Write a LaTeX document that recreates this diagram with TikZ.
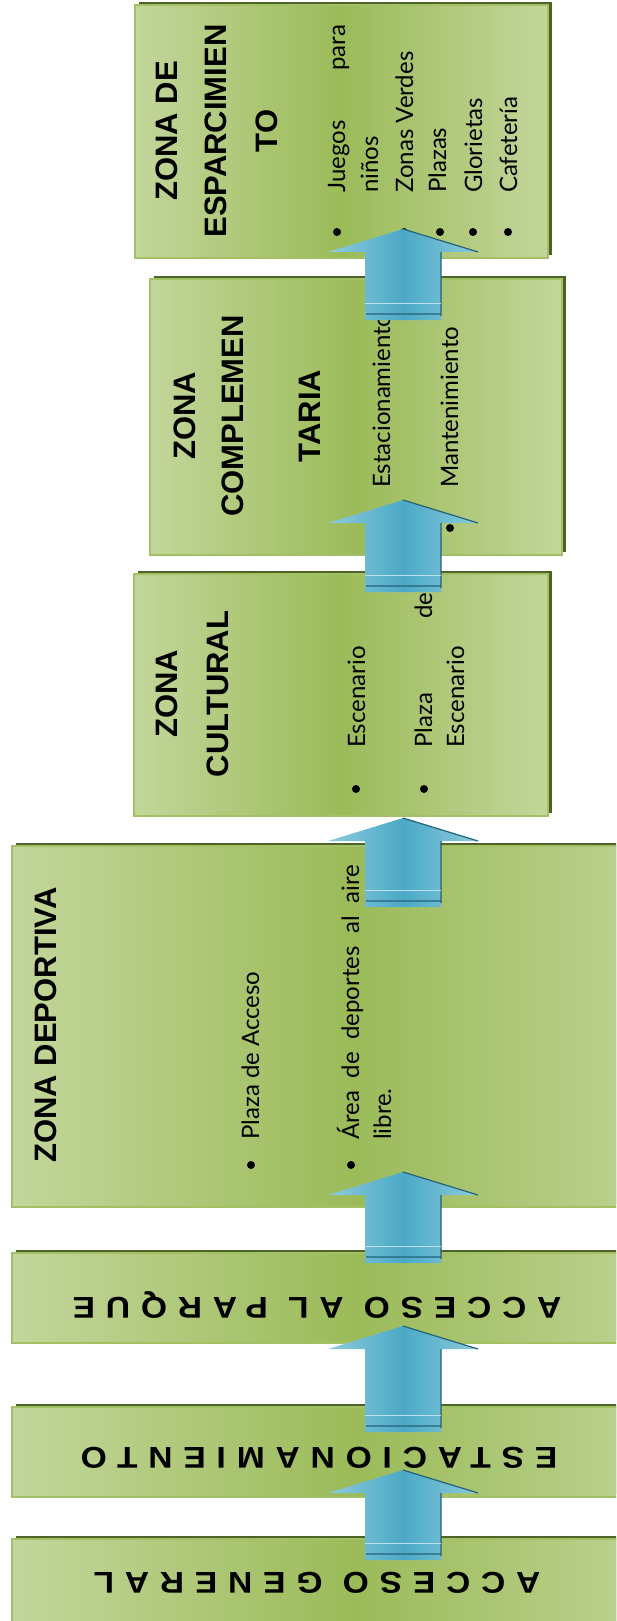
\documentclass[tikz,border=0pt]{standalone}
\usepackage{fontspec}
\setmainfont{Lato}
\newfontfamily\titlefont{Liberation Sans}
\newfontfamily\headfont[LetterSpace=36, FakeStretch=1.12]{Liberation Sans}
\usepackage{xcolor}
\usepackage{tikz}
\usetikzlibrary{calc, shadows}

\definecolor{zonelite}{HTML}{C3D69B}
\definecolor{zonedark}{HTML}{9BBB59}
\definecolor{zoneedge}{HTML}{A2C064}
\definecolor{zoneshadow}{HTML}{4F6228}
\definecolor{arrowlite}{HTML}{8DCBDD}
\definecolor{arrowmid}{HTML}{4BA9C6}
\definecolor{arrowdark}{HTML}{22627A}

% block arrow from box #1 up to box #2 (#3: start below top of #1, #4: tip offset from bottom of #2)
\newcommand{\zonearrow}[4]{%
  \path[arrowbody] let \p1=($(#1.north -| axis)+(0,#3)$), \p2=($(#2.south -| axis)+(0,#4)$) in
    (\x1-38pt,\y1) -- (\x1-38pt,\y2-23pt) -- (\x1-75pt,\y2-23pt) -- (\x2,\y2)
    -- (\x1+75pt,\y2-23pt) -- (\x1+38pt,\y2-23pt) -- (\x1+38pt,\y1) -- cycle;
  \draw[arrowedge] let \p1=($(#1.north -| axis)+(0,#3)$), \p2=($(#2.south -| axis)+(0,#4)$) in
    (\x2,\y2) -- (\x1+75pt,\y2-23pt)
    (\x1+38pt,\y2-23pt) -- (\x1+38pt,\y1+4pt)
    (\x1-37pt,\y1+6pt) -- (\x1+38pt,\y1+6pt);
  \draw[arrowgap] let \p1=($(#1.north -| axis)+(0,#3)$) in
    (\x1-38pt,\y1+17pt) -- (\x1+38pt,\y1+17pt);
}

\begin{document}
\begin{tikzpicture}[x=1pt, y=-1pt,
    zonebox/.style={draw=zoneedge, line width=1.5pt, outer sep=0pt, inner sep=0pt,
      left color=zonelite, right color=zonelite, middle color=zonedark,
      drop shadow={shadow xshift=4pt, shadow yshift=3pt, fill=zoneshadow, opacity=1}},
    titletext/.style={rotate=90, anchor=base, inner sep=0pt,
      font=\titlefont\bfseries\fontsize{31}{37}\selectfont},
    itemtext/.style={rotate=90, anchor=base west, inner sep=0pt,
      font=\fontsize{24}{29}\selectfont},
    headtext/.style={rotate=180, anchor=base, inner sep=0pt,
      font=\headfont\bfseries\fontsize{30}{36}\selectfont},
    arrowbody/.style={left color=arrowlite, right color=arrowlite, middle color=arrowmid},
    arrowedge/.style={draw=arrowdark, line width=1.2pt},
    arrowgap/.style={draw=arrowlite!60!white, line width=1pt}]
  \useasboundingbox (0,0) rectangle (616,1621);
  \clip (0,0) rectangle (616,1621);
  \coordinate (axis) at (403,0);

  \node[zonebox, minimum width=413pt, minimum height=253pt] (esp) at (341.5,131.5) {};
  \node[zonebox, minimum width=412pt, minimum height=276pt] (comp) at (356,417) {};
  \node[zonebox, minimum width=414pt, minimum height=242pt] (cult) at (341,695) {};
  \node[zonebox, minimum width=688pt, minimum height=361pt] (dep) at (356,1026.5) {};
  \node[zonebox, minimum width=688pt, minimum height=90pt] (parque) at (356,1298) {};
  \node[zonebox, minimum width=688pt, minimum height=90pt] (estac) at (356,1452) {};
  \node[zonebox, minimum width=688pt, minimum height=90pt] (general) at (356,1584) {};

  \node[titletext] (esp-t1) at (177,131) {ZONA DE};
  \node[titletext] (esp-t2) at (226,131) {ESPARCIMIEN};
  \node[titletext] (esp-t3) at (277,131) {TO};
  \node[titletext] (comp-t1) at (195,416) {ZONA};
  \node[titletext] (comp-t2) at (243,416) {COMPLEMEN};
  \node[titletext] (comp-t3) at (320,416) {TARIA};
  \node[titletext] (cult-t1) at (177,694) {ZONA};
  \node[titletext] (cult-t2) at (228,694) {CULTURAL};
  \node[titletext] (dep-t1) at (56,1025) {ZONA DEPORTIVA};

  \node[itemtext] (esp-a) at (345,193) {\makebox[168pt][s]{Juegos para}};
  \node[itemtext] (esp-b) at (378,193) {niños};
  \node[itemtext] (esp-c) at (413,193) {Zonas Verdes};
  \node[itemtext] (esp-d) at (446,193) {Plazas};
  \node[itemtext] (esp-e) at (482,193) {Glorietas};
  \node[itemtext] (esp-f) at (517,193) {Cafetería};
  \node[itemtext] (comp-a) at (390,488) {Estacionamiento};
  \node[itemtext] (comp-b) at (458,488) {Mantenimiento};
  \node[itemtext] (cult-a) at (365,748) {Escenario};
  \node[itemtext] (cult-b) at (432,748) {\makebox[155pt][s]{Plaza de}};
  \node[itemtext] (cult-c) at (464,748) {Escenario};
  \node[itemtext] (dep-a) at (259,1140) {Plaza de Acceso};
  \node[itemtext] (dep-b) at (359,1140) {\makebox[275pt][s]{Área de deportes al aire}};
  \node[itemtext] (dep-c) at (391,1140) {libre.};

  \foreach \bx/\by in {337/232, 404/232, 440/232, 473/232, 508/232, 381/528, 450/528,
                       356/789, 424/789, 251/1165, 351/1165}
    \fill (\bx,\by) circle (4pt);

  \node[headtext] (parque-t) at (317,1297) {ACCESO AL PARQUE};
  \node[headtext] (estac-t) at (319,1447) {ESTACIONAMIENTO};
  \node[headtext] (general-t) at (317,1572) {ACCESO GENERAL};

  \zonearrow{general}{estac}{21}{-27}
  \zonearrow{estac}{parque}{25}{-17}
  \zonearrow{parque}{dep}{10}{-35}
  \zonearrow{dep}{cult}{61}{2}
  \zonearrow{cult}{comp}{18}{-55}
  \zonearrow{comp}{esp}{41}{-29}
\end{tikzpicture}
\end{document}
